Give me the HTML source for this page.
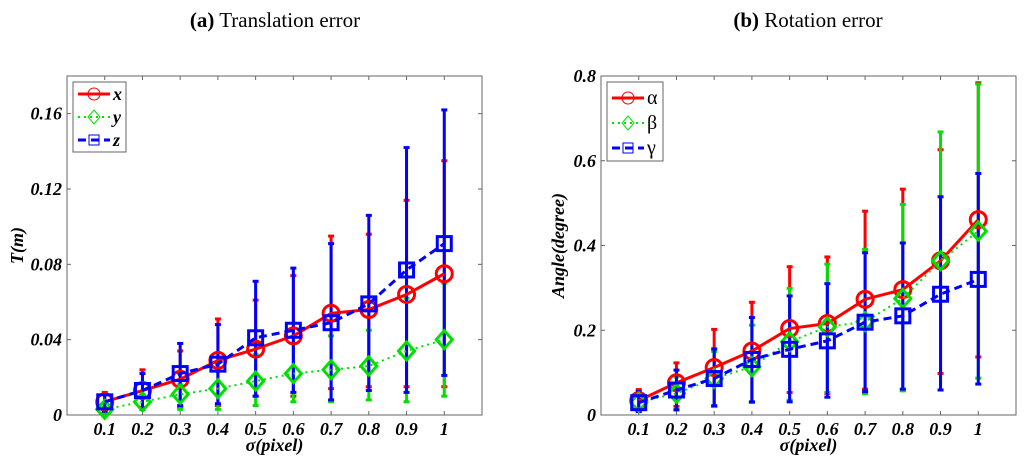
<!DOCTYPE html>
<html><head><meta charset="utf-8">
<style>
html,body{margin:0;padding:0;background:#fff;}
svg{display:block;}
text{font-family:"Liberation Serif",serif;}
</style></head>
<body>
<svg id="chart" width="1024" height="466" viewBox="0 0 1024 466" xmlns="http://www.w3.org/2000/svg">
<text x="275" y="27" font-size="21" text-anchor="middle"><tspan font-weight="bold">(a)</tspan> Translation error</text>
<text x="808" y="27" font-size="21" text-anchor="middle"><tspan font-weight="bold">(b)</tspan> Rotation error</text>
</svg>
<script>
const sigma = [0.1,0.2,0.3,0.4,0.5,0.6,0.7,0.8,0.9,1];
const tickLabelsX = ['0.1','0.2','0.3','0.4','0.5','0.6','0.7','0.8','0.9','1'];
// Translation
const xMean = [0.007,0.013,0.019,0.029,0.035,0.042,0.054,0.056,0.064,0.075];
const xHi   = [0.012,0.024,0.034,0.051,0.061,0.074,0.095,0.096,0.114,0.135];
const xLo   = [0.003,0.004,0.004,0.005,0.010,0.010,0.014,0.015,0.015,0.015];
const yMean = [0.003,0.007,0.011,0.014,0.018,0.022,0.024,0.026,0.034,0.040];
const yHi   = [0.004,0.011,0.016,0.025,0.032,0.038,0.042,0.045,0.062,0.070];
const yLo   = [0.001,0.003,0.003,0.003,0.005,0.007,0.007,0.008,0.007,0.010];
const zMean = [0.007,0.013,0.022,0.027,0.041,0.045,0.049,0.059,0.077,0.091];
const zHi   = [0.011,0.022,0.038,0.048,0.071,0.078,0.091,0.106,0.142,0.162];
const zLo   = [0.002,0.003,0.005,0.006,0.010,0.012,0.008,0.013,0.012,0.021];
const tickLabelsA = ['0','0.04','0.08','0.12','0.16'];
const tickValsA = [0,0.04,0.08,0.12,0.16];
// Rotation
const aMean = [0.034,0.076,0.112,0.151,0.204,0.216,0.273,0.296,0.364,0.461];
const aHi   = [0.060,0.123,0.202,0.266,0.350,0.373,0.481,0.533,0.626,0.784];
const aLo   = [0.010,0.020,0.020,0.030,0.053,0.051,0.061,0.059,0.098,0.137];
const bMean = [0.030,0.051,0.086,0.114,0.173,0.208,0.220,0.275,0.364,0.434];
const bHi   = [0.050,0.090,0.150,0.212,0.299,0.356,0.391,0.497,0.668,0.781];
const bLo   = [0.010,0.015,0.020,0.030,0.035,0.053,0.050,0.057,0.059,0.087];
const gMean = [0.029,0.059,0.086,0.131,0.155,0.175,0.219,0.234,0.285,0.320];
const gHi   = [0.055,0.106,0.156,0.230,0.281,0.310,0.383,0.406,0.515,0.570];
const gLo   = [0.008,0.012,0.022,0.031,0.031,0.042,0.055,0.061,0.059,0.073];
const tickLabelsB = ['0','0.2','0.4','0.6','0.8'];
const tickValsB = [0,0.2,0.4,0.6,0.8];

const NS='http://www.w3.org/2000/svg';
const svg=document.getElementById('chart');
function mk(tag,attrs,parent){const e=document.createElementNS(NS,tag);for(const k in attrs)e.setAttribute(k,attrs[k]);(parent||svg).appendChild(e);return e;}

function panel(cfg){
  const g=mk('g',{});
  
  
  const L=cfg.L,R=cfg.R,T=76,B=415;
  const sx=v=>L+(v-0)/(1.1)*(R-L);
  const sy=v=>B-(v/cfg.ymax)*(B-T);
  const box=mk('rect',{x:L,y:T,width:R-L,height:B-T,fill:'#fff',stroke:'#666','stroke-width':1},g);
  
  
  sigma.forEach((s,i)=>{
    mk('line',{x1:sx(s),x2:sx(s),y1:B,y2:B-4,stroke:'#666'},g);
    mk('line',{x1:sx(s),x2:sx(s),y1:T,y2:T+4,stroke:'#666'},g);
    const t=mk('text',{x:sx(s),y:B+20,'font-size':18,'font-weight':'bold','font-style':'italic','text-anchor':'middle'},g);
    t.textContent=tickLabelsX[i];
    
    
  });
  cfg.ticks.forEach((v,i)=>{
    mk('line',{x1:L,x2:L+4,y1:sy(v),y2:sy(v),stroke:'#666'},g);
    mk('line',{x1:R,x2:R-4,y1:sy(v),y2:sy(v),stroke:'#666'},g);
    const t=mk('text',{x:L-5,y:sy(v)+6,'font-size':18,'font-weight':'bold','font-style':'italic','text-anchor':'end'},g);
    t.textContent=cfg.tickLabels[i];
    
    
  });
  const xl=mk('text',{x:(L+R)/2,y:451,'font-size':18,'font-weight':'bold','font-style':'italic','text-anchor':'middle'},g);
  xl.textContent='σ(pixel)';
  
  
  const yl=mk('text',{x:0,y:0,'font-size':18,'font-weight':'bold','font-style':'italic','text-anchor':'middle',transform:`translate(${cfg.ylx},${(T+B)/2}) rotate(-90)`},g);
  yl.textContent=cfg.ylabel;
  
  
  cfg.series.forEach(s=>{
    sigma.forEach((v,i)=>{
      const x=sx(v);
      const e=mk('line',{x1:x,x2:x,y1:sy(s.lo[i]),y2:sy(s.hi[i]),stroke:s.color,'stroke-width':3},g);
      
      
      mk('line',{x1:x-3,x2:x+3,y1:sy(s.lo[i]),y2:sy(s.lo[i]),stroke:s.color,'stroke-width':3},g);
      mk('line',{x1:x-3,x2:x+3,y1:sy(s.hi[i]),y2:sy(s.hi[i]),stroke:s.color,'stroke-width':3},g);
    });
  });
  cfg.series.forEach(s=>{
    const pts=sigma.map((v,i)=>sx(v)+','+sy(s.mean[i])).join(' ');
    const pl=mk('polyline',{points:pts,fill:'none',stroke:s.color,'stroke-width':s.w,'stroke-dasharray':s.dash},g);
    
    
    sigma.forEach((v,i)=>{
      const m=marker(g,s.marker,sx(v),sy(s.mean[i]),s.color,8);
      
      
    });
  });
  const lg=mk('g',{},g);
  
  
  mk('rect',{x:cfg.lx,y:82,width:cfg.lw,height:cfg.lh,fill:'#fff',stroke:'#666'},lg);
  cfg.series.forEach((s,i)=>{
    const yy=82+12+i*cfg.lstep+(cfg.lh>75?4:0);
    mk('line',{x1:cfg.lx+5,x2:cfg.lx+37,y1:yy,y2:yy,stroke:s.color,'stroke-width':s.w,'stroke-dasharray':s.dash},lg);
    marker(lg,s.marker,cfg.lx+21,yy,s.color,6,1);
    const t=mk('text',{x:cfg.lx+40,y:yy+6,'font-size':cfg.lfont,'font-weight':cfg.lbold?'bold':'normal','font-style':cfg.lbold?'italic':'normal'},lg);
    t.textContent=s.label;
    
    
  });
}
function marker(g,type,x,y,c,r,sw){
  sw=sw||3;
  if(type==='o') return mk('circle',{cx:x,cy:y,r:r,fill:'none',stroke:c,'stroke-width':sw},g);
  if(type==='d') return mk('polygon',{points:`${x},${y-r-1} ${x+r},${y} ${x},${y+r+1} ${x-r},${y}`,fill:'none',stroke:c,'stroke-width':sw},g);
  return mk('rect',{x:x-r+1,y:y-r+1,width:2*r-2,height:2*r-2,fill:'none',stroke:c,'stroke-width':sw},g);
}
panel({name:'translation-panel',L:67,R:482,ymax:0.18,ticks:tickValsA,tickLabels:tickLabelsA,ylabel:'T(m)',ylx:23,
  lx:73,lw:53,lh:70,lstep:23,lfont:18,lbold:true,
  series:[
   {key:'x',label:'x',mean:xMean,hi:xHi,lo:xLo,color:'#ff0000',w:3,dash:'none',marker:'o'},
   {key:'y',label:'y',mean:yMean,hi:yHi,lo:yLo,color:'#00e000',w:2,dash:'2,4',marker:'d'},
   {key:'z',label:'z',mean:zMean,hi:zHi,lo:zLo,color:'#0000ff',w:3,dash:'8,5',marker:'s'}]});
panel({name:'rotation-panel',L:601,R:1016,ymax:0.8,ticks:tickValsB,tickLabels:tickLabelsB,ylabel:'Angle(degree)',ylx:564,
  lx:607,lw:56,lh:79,lstep:25,lfont:20,lbold:false,
  series:[
   {key:'alpha',label:'α',mean:aMean,hi:aHi,lo:aLo,color:'#ff0000',w:3,dash:'none',marker:'o'},
   {key:'beta',label:'β',mean:bMean,hi:bHi,lo:bLo,color:'#00e000',w:2,dash:'2,4',marker:'d'},
   {key:'gamma',label:'γ',mean:gMean,hi:gHi,lo:gLo,color:'#0000ff',w:3,dash:'8,5',marker:'s'}]});
</script>
</body></html>
